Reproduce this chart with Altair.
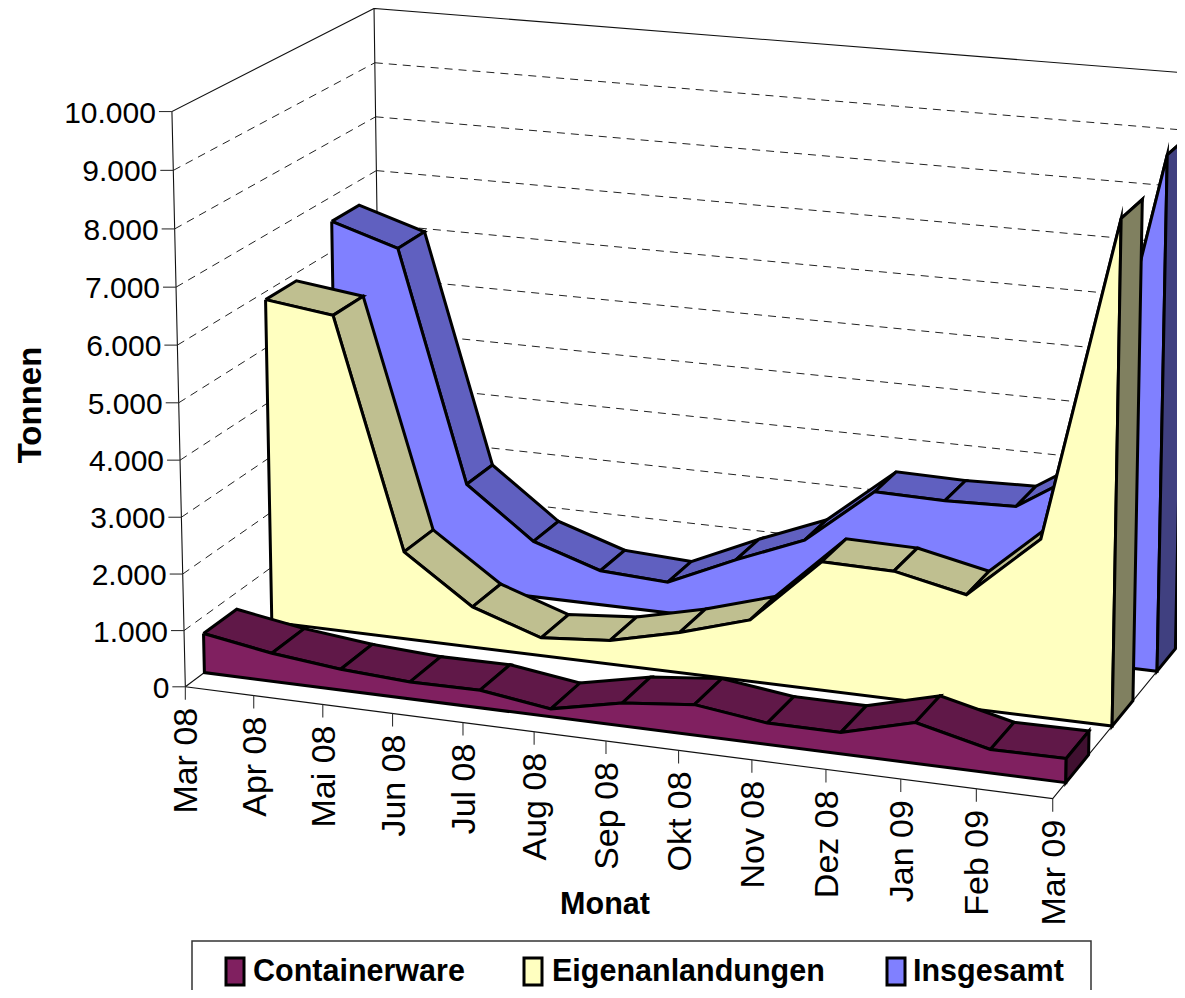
import numpy as np
import pandas as pd
import altair as alt

months = ["Mar 08","Apr 08","Mai 08","Jun 08","Jul 08","Aug 08","Sep 08","Okt 08","Nov 08","Dez 08","Jan 09","Feb 09","Mar 09"]
containerware = [700,500,370,300,310,140,400,530,370,370,700,400,410]
eigenanlandungen = [5860,5700,1580,730,320,425,720,1095,2270,2250,1985,3095,8670]
insgesamt = [6550,6170,1950,1030,630,565,1120,1625,2640,2620,2655,3450,9060]
y_ticks = [0,1000,2000,3000,4000,5000,6000,7000,8000,9000,10000]
y_labels = ["0","1.000","2.000","3.000","4.000","5.000","6.000","7.000","8.000","9.000","10.000"]

W, H = 1169, 982
OFF = 8

# camera of the pseudo-3D box: (month index, value, depth) -> page pixel
calib = [((0,0,0),(185,686)),((0,10000,0),(172,112)),((12,0,0),(1053,799)),
         ((0,10000,1),(374,8)),((0,0,1),(382,541)),((12,0,1),(1187,634)),((12,10000,1),(1199,74))]
A, b = [], []
for (t,v,d),(px,py) in calib:
    A.append([t,v,d,1,0,0,0,0,-px*t,-px*v,-px*d]); b.append(px)
    A.append([0,0,0,0,t,v,d,1,-py*t,-py*v,-py*d]); b.append(py)
scale_fix = np.array([1,1e-3,1,1,1,1e-3,1,1,1,1e-3,1])
sol = np.linalg.lstsq(np.array(A,float)*scale_fix,np.array(b,float),rcond=None)[0]*scale_fix
M = np.append(sol,1).reshape(3,4)

def proj(t,v,d):
    q = M @ np.array([t,v,d,1.0])
    return float(q[0]/q[2]-OFF), float(q[1]/q[2]-OFF)

X = alt.X("x:Q",scale=alt.Scale(domain=[0,W],range=[0,W],nice=False,zero=False),axis=None)
Y = alt.Y("y:Q",scale=alt.Scale(domain=[0,H],range=[0,H],nice=False,zero=False),axis=None)

def poly_layer(polys,fill):
    rows=[]
    for i,p in enumerate(polys):
        for j,(x,y) in enumerate(list(p)+[p[0]]):
            rows.append({"x":x,"y":y,"pid":i,"o":j})
    return alt.Chart(pd.DataFrame(rows)).mark_line(fill=fill,stroke="black",strokeWidth=3,strokeJoin="miter",strokeMiterLimit=10,clip=True).encode(
        x=X,y=Y,detail="pid:N",order="o:Q")

def line_layer(segs,color="black",width=1.0,dash=None):
    rows=[]
    for i,s in enumerate(segs):
        for j,(x,y) in enumerate(s):
            rows.append({"x":x,"y":y,"pid":i,"o":j})
    kw={"strokeDash":dash} if dash else {}
    return alt.Chart(pd.DataFrame(rows)).mark_line(color=color,strokeWidth=width,clip=True,**kw).encode(
        x=X,y=Y,detail="pid:N",order="o:Q")

def ribbon(vals,d0,d1,front,top,cap):
    n=len(vals)
    quads=[[proj(i,vals[i],d0),proj(i+1,vals[i+1],d0),proj(i+1,vals[i+1],d1),proj(i,vals[i],d1)] for i in range(n-1)]
    face=[proj(i,vals[i],d0) for i in range(n)]+[proj(n-1,0,d0),proj(0,0,d0)]
    end=[proj(n-1,vals[-1],d0),proj(n-1,vals[-1],d1),proj(n-1,0,d1),proj(n-1,0,d0)]
    return [poly_layer(quads,top),poly_layer([face],front),poly_layer([end],cap)]

layers=[]
# walls and grid
grid=[]
for v in y_ticks[1:-1]:
    grid.append([proj(0,v,0),proj(0,v,1)])
    grid.append([proj(0,v,1),proj(12,v,1)])
layers.append(line_layer(grid,color="#222222",width=1.0,dash=[8,6]))
walls=[[proj(0,0,0),proj(0,10000,0),proj(0,10000,1),proj(12,10000,1)],
       [proj(0,10000,1),proj(0,0,1),proj(12,0,1)],
       [proj(0,0,0),proj(0,0,1)],
       [proj(0,0,0),proj(12,0,0),proj(12,0,1)]]
layers.append(line_layer(walls,color="#111111",width=1.1))
# ticks
ticks=[]
for v in y_ticks:
    x,y=proj(0,v,0); ticks.append([(x-13,y),(x,y)])
for i in range(len(months)):
    x,y=proj(i,0,0); ticks.append([(x,y),(x,y+13)])
layers.append(line_layer(ticks,color="#333333",width=1.1))
# series, back to front
layers+=ribbon(insgesamt,0.76,0.905,"#8080FF","#6060C0","#404080")
layers+=ribbon(eigenanlandungen,0.42,0.575,"#FFFFC0","#BFBF90","#808060")
layers+=ribbon(containerware,0.09,0.25,"#802060","#601848","#401030")

FONT="Liberation Sans"
yl=pd.DataFrame([{"x":proj(0,v,0)[0]-16,"y":proj(0,v,0)[1]+2,"label":l} for v,l in zip(y_ticks,y_labels)])
layers.append(alt.Chart(yl).mark_text(align="right",baseline="middle",font=FONT,fontSize=30,color="black").encode(x=X,y=Y,text="label:N"))
xl=pd.DataFrame([{"x":proj(i,0,0)[0]+2,"y":proj(i,0,0)[1]+21,"label":m} for i,m in enumerate(months)])
layers.append(alt.Chart(xl).mark_text(align="right",baseline="middle",angle=270,font=FONT,fontSize=34,color="black").encode(x=X,y=Y,text="label:N"))

titles=pd.DataFrame([{"x":605-OFF,"y":905-OFF,"label":"Monat"}])
layers.append(alt.Chart(titles).mark_text(align="center",baseline="middle",font=FONT,fontSize=30.5,fontWeight="bold",color="black").encode(x=X,y=Y,text="label:N"))
ytitle=pd.DataFrame([{"x":31-OFF,"y":405-OFF,"label":"Tonnen"}])
layers.append(alt.Chart(ytitle).mark_text(align="center",baseline="middle",angle=270,font=FONT,fontSize=33,fontWeight="bold",color="black").encode(x=X,y=Y,text="label:N"))

# legend
legend_names=["Containerware","Eigenanlandungen","Insgesamt"]
legend_colors=["#802060","#FFFFC0","#8080FF"]
legend_x=[226,524,887]
legend_text_x=[253,552,913]
box=[[(192-OFF,1010),(192-OFF,941-OFF),(1091-OFF,941-OFF),(1091-OFF,1010)]]
layers.append(line_layer(box,color="#333333",width=1.5))
for n,c,sx,tx in zip(legend_names,legend_colors,legend_x,legend_text_x):
    sw=pd.DataFrame([{"x":sx-OFF,"x2":sx+18-OFF,"y":958-OFF,"y2":985-OFF}])
    layers.append(alt.Chart(sw).mark_rect(fill=c,stroke="black",strokeWidth=3).encode(x=X,x2="x2:Q",y=Y,y2="y2:Q"))
    tl=pd.DataFrame([{"x":tx-OFF,"y":972-OFF,"label":n}])
    layers.append(alt.Chart(tl).mark_text(align="left",baseline="middle",font=FONT,fontSize=30.5,fontWeight="bold",color="black").encode(x=X,y=Y,text="label:N"))

chart=alt.layer(*layers).properties(width=W,height=H,padding=0,autosize=alt.AutoSizeParams(type="none")).configure_view(stroke=None)
chart.save("out.html",embed_options={"renderer":"svg","actions":False})
